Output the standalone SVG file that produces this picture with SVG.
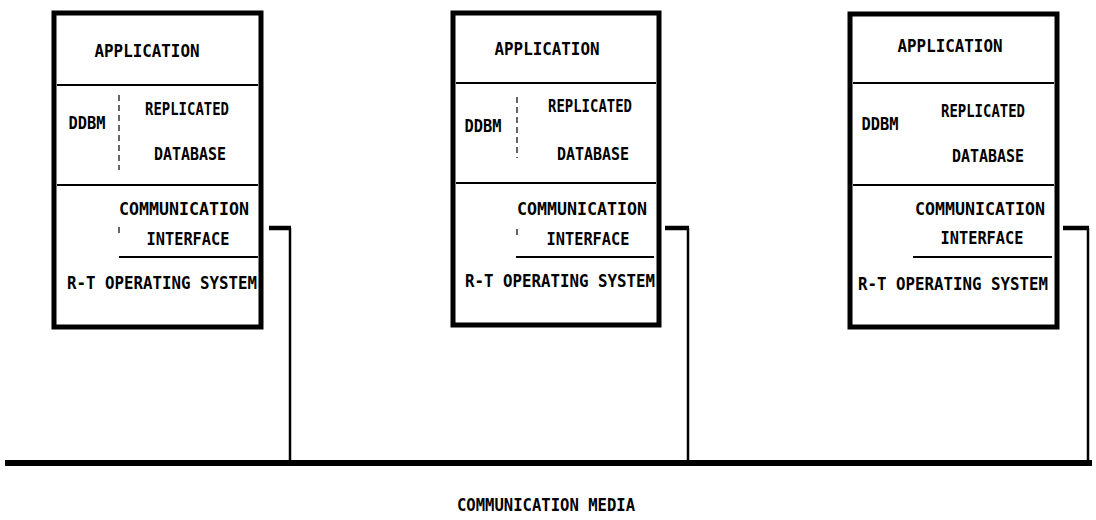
<svg xmlns="http://www.w3.org/2000/svg" width="1096" height="520" viewBox="0 0 1096 520">
<style>
.box{fill:#fff;stroke:#000;stroke-width:5}
.sep{stroke:#000;stroke-width:2;fill:none}
.dash{stroke:#000;stroke-width:1.2;stroke-dasharray:6 4;fill:none}
.t{font-family:"DejaVu Sans Mono","Liberation Mono",monospace;font-size:17.5px;font-weight:bold;fill:#000}
.m{text-anchor:middle}
.stub{stroke:#000;stroke-width:4.5;fill:none}
.drop{stroke:#000;stroke-width:2.5;fill:none}
.bus{stroke:#000;stroke-width:6;fill:none}
</style>
<rect width="1096" height="520" fill="#fff"/>
<g id="node1">
<rect class="box" x="54" y="13" width="207" height="314"/>
<line class="sep" x1="57" y1="85" x2="258" y2="85"/>
<line class="dash" x1="119" y1="95" x2="119" y2="170"/>
<line class="sep" x1="57" y1="185" x2="258" y2="185"/>
<line class="dash" x1="119" y1="227" x2="119" y2="237"/>
<line class="sep" x1="119" y1="257" x2="258" y2="257"/>
<text class="t m" x="147" y="57" textLength="105" lengthAdjust="spacingAndGlyphs">APPLICATION</text>
<text class="t m" x="87" y="129" textLength="37" lengthAdjust="spacingAndGlyphs">DDBM</text>
<text class="t m" x="187" y="115" textLength="84" lengthAdjust="spacingAndGlyphs">REPLICATED</text>
<text class="t m" x="190" y="160" textLength="72" lengthAdjust="spacingAndGlyphs">DATABASE</text>
<text class="t m" x="184" y="215" textLength="130" lengthAdjust="spacingAndGlyphs">COMMUNICATION</text>
<text class="t m" x="188" y="245" textLength="83" lengthAdjust="spacingAndGlyphs">INTERFACE</text>
<text class="t m" x="162" y="289" textLength="190" lengthAdjust="spacingAndGlyphs">R-T OPERATING SYSTEM</text>
</g>
<g id="node2">
<rect class="box" x="453" y="13" width="206" height="312"/>
<line class="sep" x1="456" y1="83" x2="656" y2="83"/>
<line class="dash" x1="517" y1="97" x2="517" y2="158"/>
<line class="sep" x1="456" y1="183" x2="656" y2="183"/>
<line class="dash" x1="517" y1="229" x2="517" y2="237"/>
<line class="sep" x1="516" y1="257" x2="654" y2="257"/>
<text class="t m" x="547" y="55" textLength="105" lengthAdjust="spacingAndGlyphs">APPLICATION</text>
<text class="t m" x="483" y="132" textLength="37" lengthAdjust="spacingAndGlyphs">DDBM</text>
<text class="t m" x="590" y="112" textLength="84" lengthAdjust="spacingAndGlyphs">REPLICATED</text>
<text class="t m" x="593" y="160" textLength="72" lengthAdjust="spacingAndGlyphs">DATABASE</text>
<text class="t m" x="582" y="215" textLength="130" lengthAdjust="spacingAndGlyphs">COMMUNICATION</text>
<text class="t m" x="588" y="245" textLength="83" lengthAdjust="spacingAndGlyphs">INTERFACE</text>
<text class="t m" x="560" y="287" textLength="190" lengthAdjust="spacingAndGlyphs">R-T OPERATING SYSTEM</text>
</g>
<g id="node3">
<rect class="box" x="850" y="14" width="207" height="313"/>
<line class="sep" x1="853" y1="83" x2="1054" y2="83"/>
<line class="sep" x1="853" y1="185" x2="1054" y2="185"/>
<line class="sep" x1="913" y1="257" x2="1052" y2="257"/>
<text class="t m" x="950" y="52" textLength="105" lengthAdjust="spacingAndGlyphs">APPLICATION</text>
<text class="t m" x="880" y="130" textLength="37" lengthAdjust="spacingAndGlyphs">DDBM</text>
<text class="t m" x="983" y="117" textLength="84" lengthAdjust="spacingAndGlyphs">REPLICATED</text>
<text class="t m" x="988" y="162" textLength="72" lengthAdjust="spacingAndGlyphs">DATABASE</text>
<text class="t m" x="980" y="215" textLength="130" lengthAdjust="spacingAndGlyphs">COMMUNICATION</text>
<text class="t m" x="982" y="244" textLength="83" lengthAdjust="spacingAndGlyphs">INTERFACE</text>
<text class="t m" x="953" y="290" textLength="190" lengthAdjust="spacingAndGlyphs">R-T OPERATING SYSTEM</text>
</g>
<g id="media">
<line class="bus" x1="5" y1="463" x2="1092" y2="463"/>
<text class="t m" x="546" y="511" textLength="178" lengthAdjust="spacingAndGlyphs">COMMUNICATION MEDIA</text>
</g>
<g id="connectors">
<path class="stub" d="M269 228 H291"/>
<path class="drop" d="M290 228 V463"/>
<path class="stub" d="M665 228 H689"/>
<path class="drop" d="M688 228 V463"/>
<path class="stub" d="M1063 228 H1089"/>
<path class="drop" d="M1088 228 V463"/>
</g>
</svg>
